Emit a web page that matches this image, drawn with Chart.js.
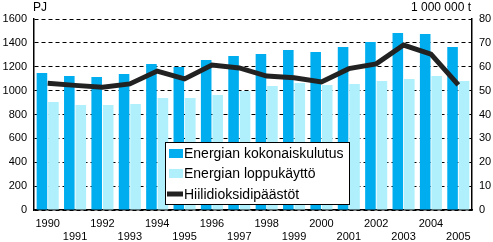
<!DOCTYPE html>
<html>
<head>
<meta charset="utf-8">
<script src="https://cdn.jsdelivr.net/npm/chart.js@4.4.1/dist/chart.umd.min.js"></script>
<style>
  html, body { margin: 0; padding: 0; background: #fff; }
  #wrap { width: 493px; height: 242px; }
</style>
</head>
<body>
<div id="wrap"><canvas id="chart" width="493" height="242"></canvas></div>
<script>
// energy consumption (PJ) and CO2 emissions (1 000 000 t), 1990-2005
const years = ["1990", "1991", "1992", "1993", "1994", "1995", "1996", "1997",
               "1998", "1999", "2000", "2001", "2002", "2003", "2004", "2005"];
const totalUse = [1148, 1122, 1114, 1139, 1223, 1198, 1256, 1290,
                  1307, 1340, 1323, 1365, 1407, 1482, 1474, 1365];
const finalUse = [904, 879, 879, 888, 938, 938, 963, 997,
                  1039, 1064, 1047, 1055, 1080, 1097, 1122, 1080];
const co2 = [53.1, 52.2, 51.4, 52.8, 58.2, 54.9, 60.7, 59.5,
             56.1, 55.4, 53.6, 59.2, 61.2, 69.1, 65.3, 52.4];
const leftTicks = [0, 200, 400, 600, 800, 1000, 1200, 1400, 1600];
const rightTicks = [0, 10, 20, 30, 40, 50, 60, 70, 80];

// odd years go on a second row
const xLabels = years.map((y, i) => i % 2 === 0 ? [y] : ["", y]);

Chart.defaults.font.family = 'Arial, "Liberation Sans", sans-serif';
Chart.defaults.color = "#000";

const boxLegend = {
    id: "boxLegend",
    afterDraw(chart) {
        const ctx = chart.ctx;
        ctx.save();
        // unit labels
        ctx.font = '12px Arial, "Liberation Sans", sans-serif';
        ctx.fillStyle = "#000";
        ctx.textBaseline = "middle";
        ctx.textAlign = "left";
        ctx.fillText("PJ", 33, 8);
        ctx.textAlign = "right";
        ctx.fillText("1 000 000 t", 471, 8);

        // legend box
        const x = 165, y = 142, w = 184, h = 62;
        ctx.fillStyle = "#fff";
        ctx.fillRect(x, y, w, h);
        ctx.strokeStyle = "#000";
        ctx.lineWidth = 1;
        ctx.strokeRect(x + 0.5, y + 0.5, w, h);
        ctx.font = '14px Arial, "Liberation Sans", sans-serif';
        ctx.textAlign = "left";
        const rows = [153, 173, 194];
        const ds = chart.data.datasets;
        [ds[1], ds[2], ds[0]].forEach((d, i) => {
            const ry = rows[i];
            if (d.type === "line") {
                ctx.strokeStyle = d.borderColor;
                ctx.lineWidth = 5;
                ctx.beginPath();
                ctx.moveTo(167, ry);
                ctx.lineTo(183, ry);
                ctx.stroke();
            } else {
                ctx.fillStyle = d.backgroundColor;
                ctx.fillRect(169, ry - 4, 14, 9);
            }
            ctx.fillStyle = "#000";
            ctx.fillText(d.label, 184, ry + 1);
        });
        ctx.restore();
    }
};

new Chart("chart", {
    data: {
        labels: xLabels,
        datasets: [{
            type: "line",
            label: "Hiilidioksidipäästöt",
            data: co2,
            yAxisID: "y1",
            borderColor: "#222222",
            borderWidth: 5,
            pointRadius: 0,
            tension: 0,
            order: 0
        }, {
            type: "bar",
            label: "Energian kokonaiskulutus",
            data: totalUse,
            yAxisID: "y",
            backgroundColor: "#00aeef",
            categoryPercentage: 0.84,
            barPercentage: 0.92,
            order: 1
        }, {
            type: "bar",
            label: "Energian loppukäyttö",
            data: finalUse,
            yAxisID: "y",
            backgroundColor: "#b0f0fc",
            categoryPercentage: 0.84,
            barPercentage: 0.92,
            order: 1
        }]
    },
    options: {
        responsive: false,
        animation: false,
        layout: { padding: { top: 19, left: 0, right: 0, bottom: 0 } },
        plugins: {
            legend: { display: false },
            tooltip: { enabled: false }
        },
        scales: {
            x: {
                grid: { display: false, drawTicks: false },
                border: { color: "#000", width: 1.5 },
                ticks: { font: { size: 11 }, padding: 7, maxRotation: 0, autoSkip: false },
                afterFit(s) { s.height = 32; }
            },
            y: {
                position: "left",
                min: 0,
                max: 1600,
                afterBuildTicks(s) { s.ticks = leftTicks.map(v => ({ value: v })); },
                grid: { color: "#000", lineWidth: 1, drawTicks: false },
                border: { color: "#000", width: 1.5, dash: [4, 3] },
                ticks: { font: { size: 11 }, padding: 7, callback: v => String(v) },
                afterFit(s) { s.width = 34; }
            },
            y1: {
                position: "right",
                min: 0,
                max: 80,
                afterBuildTicks(s) { s.ticks = rightTicks.map(v => ({ value: v })); },
                grid: { display: false, drawTicks: false },
                border: { color: "#000", width: 1.5 },
                ticks: { font: { size: 11 }, padding: 7, callback: v => String(v) },
                afterFit(s) { s.width = 21; }
            }
        }
    },
    plugins: [boxLegend]
});
</script>
</body>
</html>
